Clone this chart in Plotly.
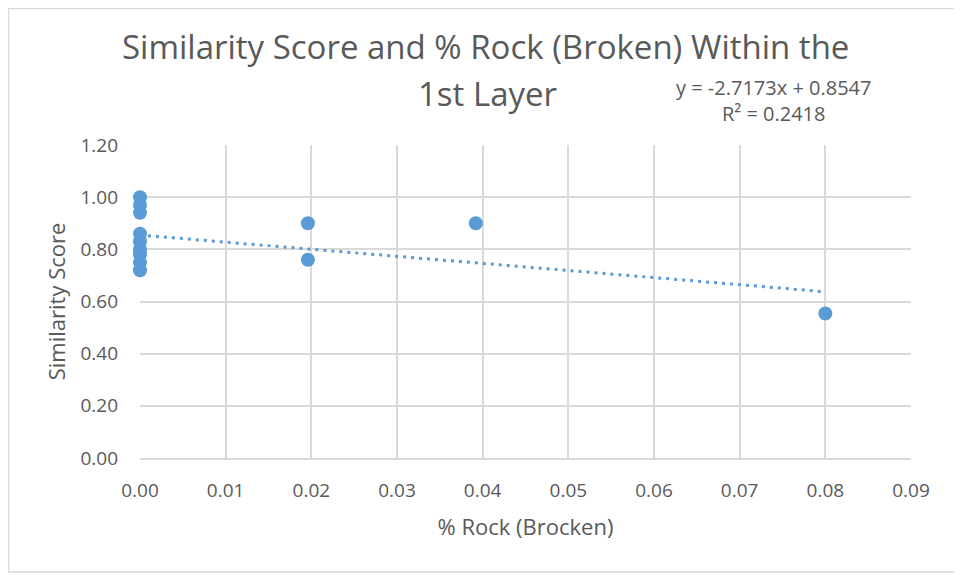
import plotly.graph_objects as go

# data
rock_pct = [0, 0, 0, 0, 0, 0, 0, 0, 0, 0.0196, 0.0196, 0.0392, 0.08]
similarity = [1.00, 0.97, 0.94, 0.86, 0.83, 0.80, 0.78, 0.75, 0.72, 0.90, 0.76, 0.90, 0.554]

slope = -2.7173
intercept = 0.8547
r2 = 0.2418

x_ticks = [0, 0.01, 0.02, 0.03, 0.04, 0.05, 0.06, 0.07, 0.08, 0.09]
y_ticks = [0, 0.2, 0.4, 0.6, 0.8, 1.0, 1.2]

blue = '#5B9BD5'
grey_txt = '#595959'
grid = '#D9D9D9'

trend_x = [min(rock_pct), max(rock_pct)]
trend_y = [slope * v + intercept for v in trend_x]

# page body adds an 8px offset, so the figure is a bit smaller
W, H = 954, 567
L, R, T, B = 132, 51, 137, 117
pw, ph = W - L - R, H - T - B

def px(x):
    return (x - 8 - L) / pw

def py(y):
    return (H - B - (y - 8)) / ph

fig = go.Figure()
fig.add_trace(go.Scatter(x=trend_x, y=trend_y, mode='lines',
                         line=dict(color=blue, width=3, dash='3px,5px'), hoverinfo='skip'))
fig.add_trace(go.Scatter(x=rock_pct, y=similarity, mode='markers', cliponaxis=False,
                         marker=dict(color=blue, size=14)))

fig.update_layout(
    width=W, height=H,
    margin=dict(l=L, r=R, t=T, b=B),
    paper_bgcolor='white', plot_bgcolor='white',
    showlegend=False,
    font=dict(family='Open Sans', color=grey_txt),
)
fig.update_xaxes(range=[0, 0.09], tickvals=x_ticks, tickformat='.2f',
                 showgrid=True, gridcolor=grid, gridwidth=1.5,
                 showline=True, linecolor=grid, linewidth=1.5, zeroline=False,
                 tickfont=dict(size=19, color=grey_txt), ticks='', ticklabelstandoff=14,
                 title=dict(text='% Rock (Brocken)', font=dict(size=22, color=grey_txt), standoff=18))
fig.update_yaxes(range=[0, 1.2], tickvals=y_ticks, tickformat='.2f',
                 showgrid=True, gridcolor=grid, gridwidth=1.5,
                 showline=False, zeroline=False,
                 tickfont=dict(size=19, color=grey_txt), ticks='', ticklabelstandoff=21,
                 title=dict(text='Similarity Score', font=dict(size=22, color=grey_txt), standoff=8))

fig.add_annotation(text='Similarity Score and % Rock (Broken) Within the', xref='paper', yref='paper',
                   x=px(485), y=py(47), showarrow=False,
                   font=dict(size=33, color=grey_txt), xanchor='center', yanchor='middle')
fig.add_annotation(text='1st Layer', xref='paper', yref='paper',
                   x=px(487), y=py(93), showarrow=False,
                   font=dict(size=33, color=grey_txt), xanchor='center', yanchor='middle')
fig.add_annotation(text='y = %.4fx + %.4f<br>R² = %.4f' % (slope, intercept, r2),
                   xref='paper', yref='paper',
                   x=px(773), y=py(101), showarrow=False, align='center',
                   font=dict(size=20, color=grey_txt), xanchor='center', yanchor='middle')

fig.add_shape(type='rect', xref='paper', yref='paper',
              x0=px(8.5), x1=px(958), y0=py(572), y1=py(8.5),
              line=dict(color=grid, width=1.5))

fig.write_html('out.html')
